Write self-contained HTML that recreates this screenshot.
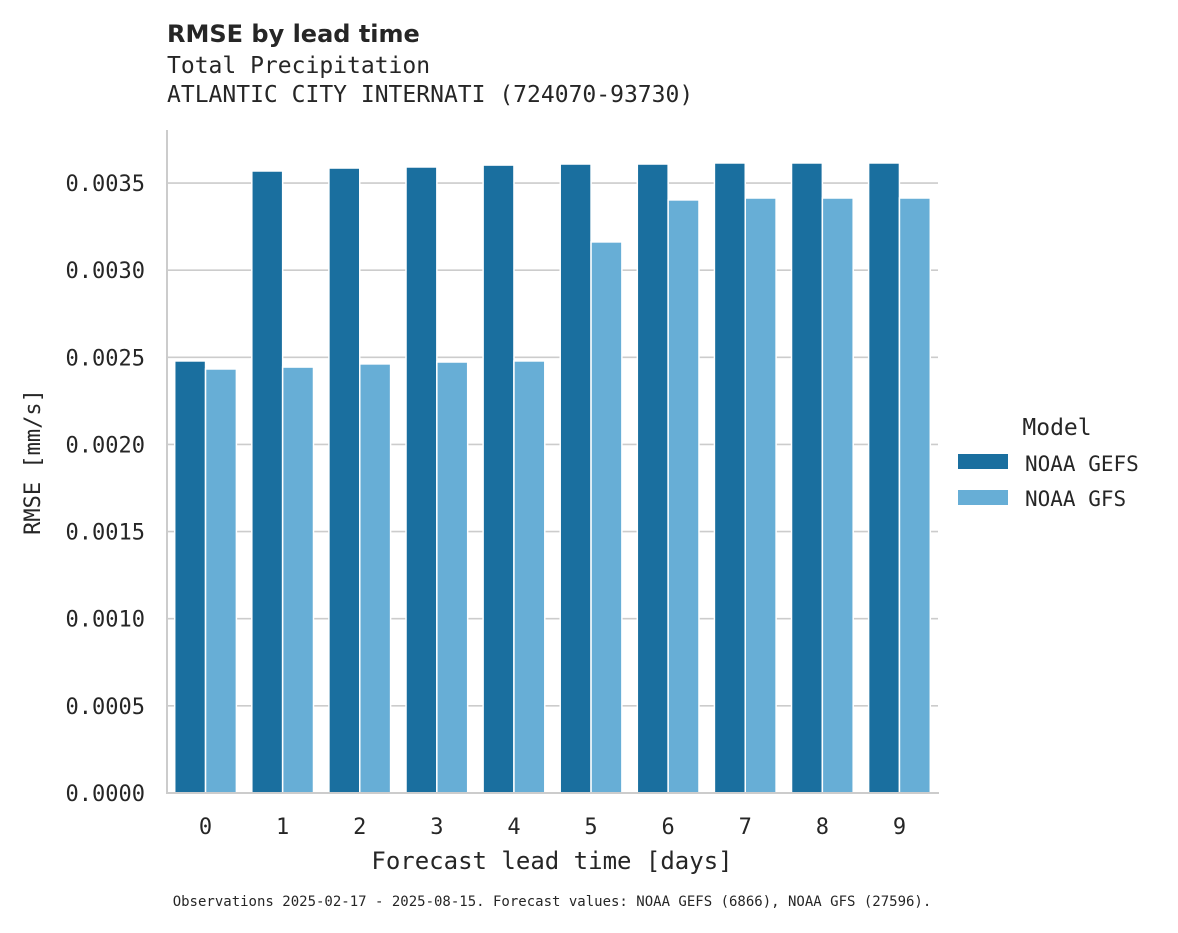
<!DOCTYPE html>
<html><head><meta charset="utf-8"><style>
body{margin:0;background:#fff;}
svg text{font-family:"DejaVu Sans Mono","Liberation Mono",monospace;fill:#262626;}
</style></head><body>
<svg width="1178" height="928" id="c">
<text x="167" y="42" style="font-family:'DejaVu Sans','Liberation Sans',sans-serif;font-weight:bold;font-size:24px">RMSE by lead time</text>
<text x="167" y="73" font-size="23">Total Precipitation</text>
<text x="167" y="102" font-size="23">ATLANTIC CITY INTERNATI (724070-93730)</text>
<g id="grid"></g><g id="bars"></g>
<line x1="167" y1="130" x2="167" y2="794" stroke="#ccc" stroke-width="2"/>
<line x1="166" y1="793" x2="939" y2="793" stroke="#ccc" stroke-width="2"/>
<text x="40" y="462" font-size="22" text-anchor="middle" transform="rotate(-90 40 462)">RMSE [mm/s]</text>
<text x="552" y="869" font-size="24" text-anchor="middle">Forecast lead time [days]</text>
<text x="1057" y="435" font-size="23" text-anchor="middle">Model</text>
<rect x="958" y="454" width="50" height="15" fill="#1a6f9f"/>
<text x="1025" y="471" font-size="21">NOAA GEFS</text>
<rect x="958" y="490" width="50" height="15" fill="#67aed6"/>
<text x="1025" y="506" font-size="21">NOAA GFS</text>
<text x="552" y="906" font-size="14" text-anchor="middle">Observations 2025-02-17 - 2025-08-15. Forecast values: NOAA GEFS (6866), NOAA GFS (27596).</text>
</svg>
<script>
const categories=["0","1","2","3","4","5","6","7","8","9"];
const gefs=[0.002479,0.003569,0.003586,0.003592,0.003603,0.003609,0.003609,0.003615,0.003615,0.003615];
const gfs=[0.002433,0.002444,0.002462,0.002473,0.002479,0.003162,0.003403,0.003414,0.003414,0.003414];
const yTicks=[0,0.0005,0.001,0.0015,0.002,0.0025,0.003,0.0035];
const yTickLabels=["0.0000","0.0005","0.0010","0.0015","0.0020","0.0025","0.0030","0.0035"];
const ns="http://www.w3.org/2000/svg";
const x0=167,pw=771,y0=793,pxPer=87.14/0.0005;
const y=v=>y0-v*pxPer;
const band=pw/categories.length;
const xc=i=>x0+band*(i+0.5);
function mk(t,a,p){const e=document.createElementNS(ns,t);for(const k in a)e.setAttribute(k,a[k]);p.appendChild(e);return e;}
const g=document.getElementById('grid'),b=document.getElementById('bars'),svg=document.getElementById('c');
yTicks.forEach((v,i)=>{
 const l=mk('line',{x1:x0,x2:x0+pw,y1:y(v),y2:y(v),stroke:'#ccc','stroke-width':1.6},g);
 
 
 const t=mk('text',{x:145,y:y(v)+8,'font-size':22,'text-anchor':'end'},svg);
 t.textContent=yTickLabels[i];
 
 
});
const bw=band*0.8/2;
categories.forEach((c,i)=>{
 const r1=mk('rect',{x:xc(i)-bw,y:y(gefs[i]),width:bw,height:y0-y(gefs[i]),fill:'#1a6f9f',stroke:'#fff','stroke-width':1.5},b);
 
 
 const r2=mk('rect',{x:xc(i),y:y(gfs[i]),width:bw,height:y0-y(gfs[i]),fill:'#67aed6',stroke:'#fff','stroke-width':1.5},b);
 
 
 const t=mk('text',{x:xc(i),y:834,'font-size':22,'text-anchor':'middle'},svg);
 t.textContent=c;
 
 
});
</script>
</body></html>
